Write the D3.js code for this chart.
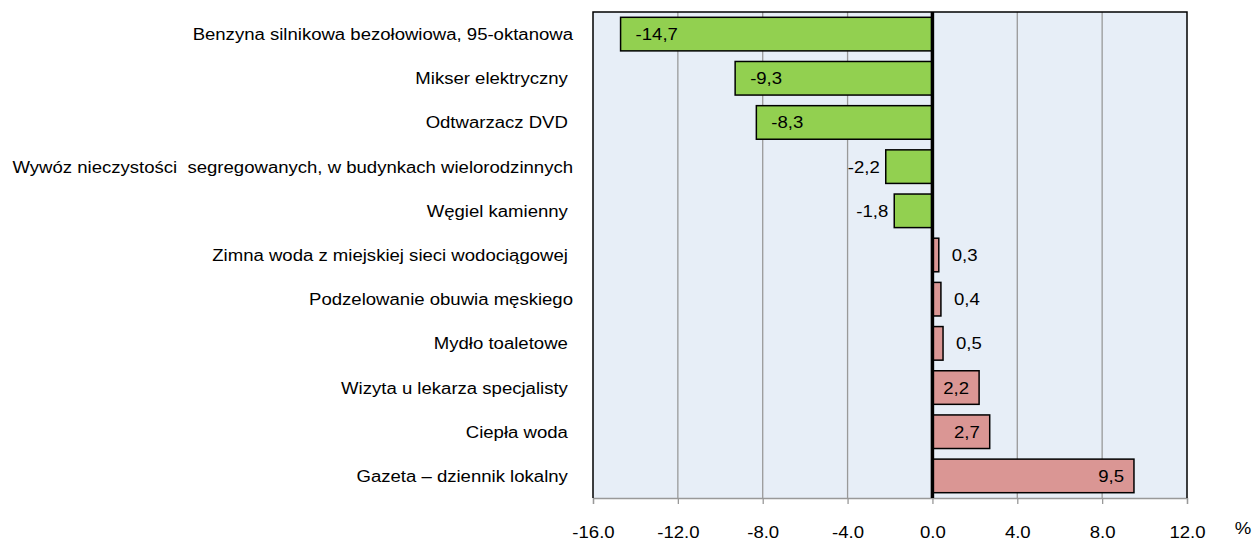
<!DOCTYPE html>
<html>
<head>
<meta charset="utf-8">
<script src="https://cdn.jsdelivr.net/npm/d3@7"></script>
<style>
  body { margin: 0; background: #fff; }
  text { font-family: "Liberation Sans", Arial, sans-serif; white-space: pre; }
</style>
</head>
<body>
<script>
const categories = [
  "Benzyna silnikowa bezołowiowa, 95-oktanowa",
  "Mikser elektryczny ",
  "Odtwarzacz DVD ",
  "Wywóz nieczystości  segregowanych, w budynkach wielorodzinnych",
  "Węgiel kamienny ",
  "Zimna woda z miejskiej sieci wodociągowej ",
  "Podzelowanie obuwia męskiego",
  "Mydło toaletowe ",
  "Wizyta u lekarza specjalisty ",
  "Ciepła woda ",
  "Gazeta – dziennik lokalny "
];
const values = [-14.7, -9.3, -8.3, -2.2, -1.8, 0.3, 0.4, 0.5, 2.2, 2.7, 9.5];
const ticks = [-16, -12, -8, -4, 0, 4, 8, 12];

// text in the reference is slightly stretched horizontally
const SX = 1.16;
function placeText(sel, xf, yf){
	sel.attr("x", 0).attr("y", 0)
		.attr("transform", (d, i) => `translate(${xf(d, i)},${yf(d, i)}) scale(${SX},1)`);
}

function init(){
	const W = 1255, H = 541;
	const left = 593, right = 1187, top = 12, bottom = 498;

	const svg = d3.select("body").append("svg")
		.attr("width", W)
		.attr("height", H);

	const x = d3.scaleLinear().domain([-16, 12]).range([left, right]);
	const y = d3.scaleBand().domain(categories).range([top, bottom]).paddingInner(0.24).paddingOuter(0.12);

	// plot background
	svg.append("rect")
		.attr("x", left).attr("y", top)
		.attr("width", right - left).attr("height", bottom - top)
		.attr("fill", "#E7EEF7");

	// gridlines
	svg.append("g").selectAll("line")
		.data(ticks.filter(t => t !== -16 && t !== 12 && t !== 0))
		.join("line")
		.attr("x1", d => x(d)).attr("x2", d => x(d))
		.attr("y1", top).attr("y2", bottom)
		.attr("stroke", "#999").attr("stroke-width", 1.3);

	// bottom axis
	const axis = svg.append("g")
		.attr("transform", `translate(0,${bottom})`)
		.call(d3.axisBottom(x).tickValues(ticks).tickSize(6)
			.tickFormat(d => d3.format(".1f")(d).replace("−", "-")));
	axis.select(".domain").attr("stroke", "#999").attr("stroke-width", 1.3);
	axis.selectAll(".tick line").attr("stroke", "#999").attr("stroke-width", 1.3);
	axis.selectAll(".tick text")
		.attr("font-size", 16).attr("fill", "#000")
		.attr("font-family", "Liberation Sans, Arial, sans-serif")
		.attr("dy", null)
		.call(placeText, () => 0, () => 40);

	svg.append("text")
		.attr("font-size", 16).attr("text-anchor", "middle")
		.call(placeText, () => 1243, () => 534)
		.text("%");

	// left/right/top borders
	svg.append("path")
		.attr("d", `M${left},${bottom}V${top}H${right}V${bottom}`)
		.attr("fill", "none").attr("stroke", "#000").attr("stroke-width", 1.5);

	// bars
	svg.append("g").selectAll("rect")
		.data(values)
		.join("rect")
		.attr("x", d => Math.min(x(0), x(d)))
		.attr("y", (d, i) => y(categories[i]))
		.attr("width", d => Math.abs(x(d) - x(0)))
		.attr("height", y.bandwidth())
		.attr("fill", d => d < 0 ? "#92D050" : "#DA9694")
		.attr("stroke", "#000").attr("stroke-width", 1.5);

	// zero line
	svg.append("line")
		.attr("x1", x(0)).attr("x2", x(0))
		.attr("y1", top).attr("y2", bottom)
		.attr("stroke", "#000").attr("stroke-width", 3.5);

	// value labels
	const inside = d => d < 0 ? Math.abs(x(d) - x(0)) > 60 : Math.abs(x(d) - x(0)) > 30;
	svg.append("g").selectAll("text")
		.data(values)
		.join("text")
		.attr("font-size", 16)
		.attr("text-anchor", d => (d < 0) === inside(d) ? "start" : "end")
		.call(placeText,
			d => d < 0 ? (inside(d) ? x(d) + 15 : x(d) - 6) : (inside(d) ? x(d) - 10 : x(d) + 13),
			(d, i) => y(categories[i]) + y.bandwidth() / 2 + 6)
		.text(d => String(d).replace(".", ","));

	// category labels
	svg.append("g").selectAll("text")
		.data(categories)
		.join("text")
		.attr("text-anchor", "end")
		.attr("font-size", 16)
		.call(placeText, () => 573, d => y(d) + y.bandwidth() / 2 + 6)
		.text(d => d);
}
init();
</script>
</body>
</html>
